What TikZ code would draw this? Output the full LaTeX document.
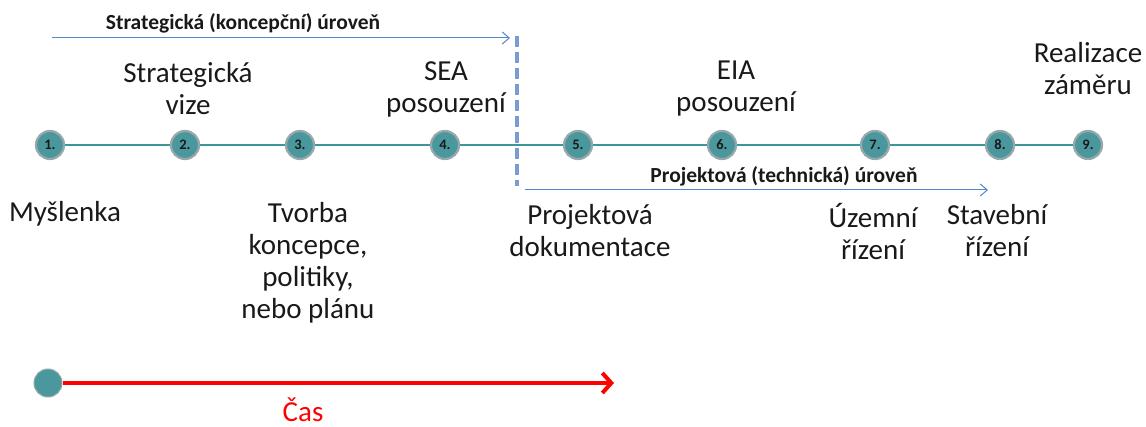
\documentclass[tikz,border=0pt]{standalone}
\usepackage{fontspec}
\setmainfont{Carlito}
\usetikzlibrary{arrows.meta}
\definecolor{teal1}{RGB}{74,152,158}
\definecolor{ringgray}{RGB}{150,168,170}
\definecolor{lineteal}{RGB}{60,150,155}
\definecolor{arrblue}{RGB}{85,135,200}
\definecolor{dashblue}{RGB}{120,158,210}
\definecolor{txt}{RGB}{25,25,25}
\begin{document}
\begin{tikzpicture}[x=1pt,y=-1pt,
  stepdot/.style={circle,fill=teal1,draw=ringgray,line width=2.2pt,minimum size=28pt,inner sep=0pt,
    font=\fontsize{14.5}{15}\selectfont\bfseries,text=txt},
  lbl/.style={align=center,font=\fontsize{29}{32}\selectfont,text=txt,inner sep=0pt},
  lvl/.style={font=\fontsize{21.5}{22}\selectfont\bfseries,text=txt,inner sep=0pt},
  levarrow/.style={draw=arrblue,line width=1pt,-{Straight Barb[length=7pt,width=12pt]}}
]
\useasboundingbox (0,0) rectangle (1146,427);
% main line nodes
\node[stepdot] (n1) at (50,145) {1.};
\node[stepdot] (n2) at (185,145) {2.};
\node[stepdot] (n3) at (300,145) {3.};
\node[stepdot] (n4) at (445,145) {4.};
\node[stepdot] (n5) at (578,145) {5.};
\node[stepdot] (n6) at (722,145) {6.};
\node[stepdot] (n7) at (875,145) {7.};
\node[stepdot] (n8) at (1000,145) {8.};
\node[stepdot] (n9) at (1088,145) {9.};
\foreach \a/\b in {n1/n2,n2/n3,n3/n4,n4/n5,n5/n6,n6/n7,n7/n8,n8/n9}
  \draw[lineteal,line width=2.5pt] (\a) -- (\b);
% dashed divider
\coordinate (dtop) at (517,36);
\coordinate (dbot) at (517,186);
\draw[dashblue,line width=3.5pt,dash pattern=on 11pt off 5pt] (dtop) -- (dbot);
% level arrows
\coordinate (s1) at (52,38);
\coordinate (s2) at (510,38);
\draw[levarrow] (s1) -- (s2);
\node[lvl] (slbl) at (243,23) {Strategická (koncepční) úroveň};
\coordinate (p1) at (525,190);
\coordinate (p2) at (988,190);
\draw[levarrow] (p1) -- (p2);
\node[lvl] (plbl) at (784,176) {Projektová (technická) úroveň};
% upper labels
\node[lbl] (u2) at (188,89) {Strategická\\vize};
\node[lbl] (u4) at (446,89) {SEA\\posouzení};
\node[lbl] (u6) at (736,89) {EIA\\posouzení};
\node[lbl] (u9) at (1088,69) {Realizace\\záměru};
% lower labels
\node[lbl] (l1) at (65,214) {Myšlenka};
\node[lbl] (l3) at (308,263) {Tvorba\\koncepce,\\politiky,\\nebo plánu};
\node[lbl] (l5) at (590,231) {Projektová\\dokumentace};
\node[lbl] (l7) at (873,231) {Územní\\řízení};
\node[lbl] (l8) at (997,231) {Stavební\\řízení};
% time arrow
\node[circle,fill=teal1,draw=ringgray,line width=1pt,minimum size=28pt,inner sep=0pt] (t0) at (48,383) {};
\coordinate (t1) at (614,383);
\draw[red,line width=4pt,-{Straight Barb[length=9pt,width=20pt,line width=4pt]}] (t0) -- (t1);
\node[font=\fontsize{29}{32}\selectfont,text=red,inner sep=0pt,anchor=base] (cas) at (303,421) {Čas};
\end{tikzpicture}
\end{document}
